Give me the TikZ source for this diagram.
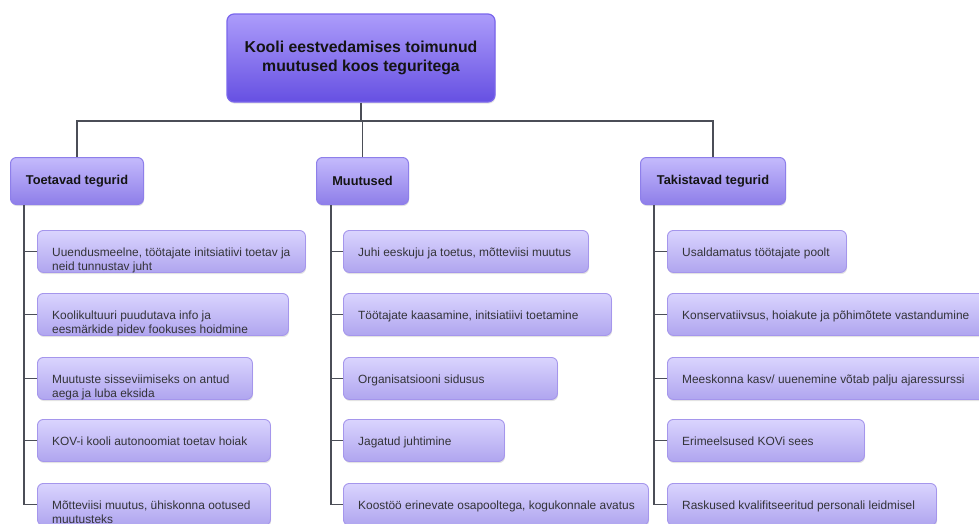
\documentclass[tikz,border=0pt]{standalone}
\usepackage{fontspec}
\setmainfont{Liberation Sans}
\usetikzlibrary{shadows,calc}
\definecolor{conncol}{HTML}{4B4E57}
\definecolor{txtcol}{HTML}{333338}
\definecolor{topA}{HTML}{AC9CFB}
\definecolor{topB}{HTML}{6650E2}
\definecolor{topD}{HTML}{7A66EC}
\definecolor{catA}{HTML}{C4BAFC}
\definecolor{catB}{HTML}{8E7EE9}
\definecolor{catD}{HTML}{8E7FEA}
\definecolor{chA}{HTML}{DAD4FE}
\definecolor{chB}{HTML}{B0A5EF}
\definecolor{chD}{HTML}{A596EC}
\tikzset{
  shad/.style={drop shadow={opacity=0.22, shadow xshift=0.6pt, shadow yshift=-1.6pt}},
  titlebox/.style={shad, rounded corners=7pt, draw=topD, line width=1.2pt, top color=topA, bottom color=topB,
    minimum width=268pt, minimum height=88pt, inner sep=0pt, align=center,
    font=\fontsize{15.8}{19.5}\selectfont\bfseries, text=black!92},
  catbox/.style={shad, rounded corners=6pt, draw=catD, line width=1pt, top color=catA, bottom color=catB,
    minimum height=47pt, inner sep=0pt, anchor=north west,
    font=\fontsize{12.8}{15}\selectfont\bfseries, text=black!92},
  childbox/.style={shad, rounded corners=6pt, draw=chD, line width=0.9pt, top color=chA, bottom color=chB,
    minimum height=42pt, inner sep=0pt, anchor=north west},
  ctext/.style={font=\fontsize{11.9}{14}\selectfont, text=txtcol, inner sep=0pt, anchor=base west},
  conn/.style={draw=conncol, line width=1.8pt},
  conn2/.style={draw=conncol, line width=1.4pt},
}
% two-line child: text clipped to box, like the reference
\newcommand\cboxtwo[6]{%
  \node[childbox, minimum width=#4pt] (#1) at (#2pt,-#3pt) {};
  \begin{scope}
    \clip[rounded corners=6pt] (#1.north west) rectangle (#1.south east);
    \node[ctext] (#1l1) at ([shift={(15pt,-26.5pt)}]#1.north west) {#5};
    \node[ctext] (#1l2) at ([shift={(15pt,-40.5pt)}]#1.north west) {#6};
  \end{scope}}
\newcommand\cboxone[5]{%
  \node[childbox, minimum width=#4pt] (#1) at (#2pt,-#3pt) {};
  \node[ctext] (#1l1) at ([shift={(15pt,-26.3pt)}]#1.north west) {#5};}
\begin{document}
\begin{tikzpicture}[x=1pt,y=1pt]
\useasboundingbox (0,0) rectangle (979,-523);
\clip (0,0) rectangle (979,-523);
% title
\node[titlebox] (top) at (361,-58) {Kooli eestvedamises toimunud\\[-1pt]muutused koos teguritega};
% categories
\node[catbox, minimum width=133pt] (t1) at (10,-157) {Toetavad tegurid};
\node[catbox, minimum width=92pt] (t2) at (316,-157) {Muutused};
\node[catbox, minimum width=145pt] (t3) at (640,-157) {Takistavad tegurid};
% top connectors
\coordinate (bus) at (361,-121);
\draw[conn] (top.south) -- (bus);
\draw[conn] (bus) -| (t1.north);
\draw[conn] (bus) -| (t3.north);
\draw[conn] (bus) -- (t2.north |- bus) -- (t2.north);
% children column 1
\cboxtwo{a1}{37}{230}{268}{Uuendusmeelne, töötajate initsiatiivi toetav ja}{neid tunnustav juht}
\cboxtwo{a2}{37}{293}{251}{Koolikultuuri puudutava info ja}{eesmärkide pidev fookuses hoidmine}
\cboxtwo{a3}{37}{357}{215}{Muutuste sisseviimiseks on antud}{aega ja luba eksida}
\cboxone{a4}{37}{419}{233}{KOV-i kooli autonoomiat toetav hoiak}
\cboxtwo{a5}{37}{483}{233}{Mõtteviisi muutus, ühiskonna ootused}{muutusteks}
% children column 2
\cboxone{b1}{343}{230}{245}{Juhi eeskuju ja toetus, mõtteviisi muutus}
\cboxone{b2}{343}{293}{268}{Töötajate kaasamine, initsiatiivi toetamine}
\cboxone{b3}{343}{357}{214}{Organisatsiooni sidusus}
\cboxone{b4}{343}{419}{161}{Jagatud juhtimine}
\cboxone{b5}{343}{483}{305}{Koostöö erinevate osapooltega, kogukonnale avatus}
% children column 3
\cboxone{c1}{667}{230}{179}{Usaldamatus töötajate poolt}
\cboxone{c2}{667}{293}{330}{Konservatiivsus, hoiakute ja põhimõtete vastandumine}
\cboxone{c3}{667}{357}{330}{Meeskonna kasv/ uuenemine võtab palju ajaressurssi}
\cboxone{c4}{667}{419}{197}{Erimeelsused KOVi sees}
\cboxone{c5}{667}{483}{269}{Raskused kvalifitseeritud personali leidmisel}
% child connectors
\coordinate (v1) at ([xshift=14pt]t1.south west);
\coordinate (v2) at ([xshift=15pt]t2.south west);
\coordinate (v3) at ([xshift=14pt]t3.south west);
\draw[conn2] (v1) |- (a5.west);
\draw[conn2] (v2) |- (b5.west);
\draw[conn2] (v3) |- (c5.west);
\foreach \n in {1,...,4} {
  \draw[conn2] (a\n.west) -- (a\n.west -| v1);
  \draw[conn2] (b\n.west) -- (b\n.west -| v2);
  \draw[conn2] (c\n.west) -- (c\n.west -| v3);
}
\end{tikzpicture}
\end{document}
